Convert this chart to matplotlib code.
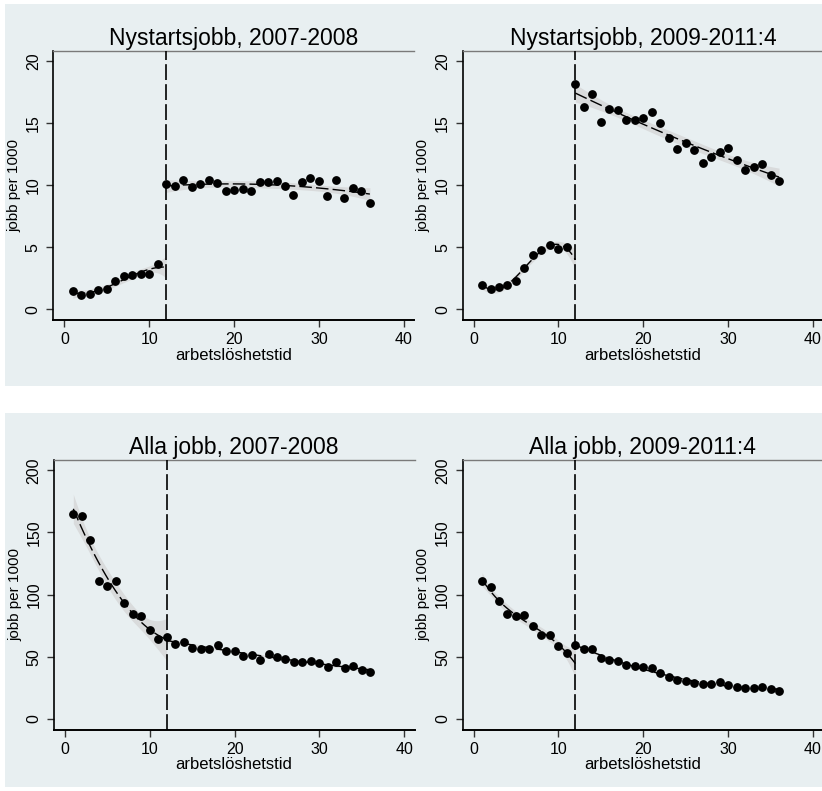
import numpy as np
import matplotlib
matplotlib.use("Agg")
import matplotlib.pyplot as plt
from matplotlib.patches import Rectangle

plt.rcParams['font.family'] = ['Liberation Sans', 'DejaVu Sans']

# ---------------- data ----------------
months = list(range(1, 37))
cutoff = 12

titles = ["Nystartsjobb, 2007-2008", "Nystartsjobb, 2009-2011:4",
          "Alla jobb, 2007-2008", "Alla jobb, 2009-2011:4"]

ny_0708 = [1.51, 1.13, 1.24, 1.56, 1.67, 2.26, 2.69, 2.75, 2.85, 2.85, 3.66,
           10.09, 9.96, 10.44, 9.85, 10.12, 10.44, 10.23, 9.58, 9.64, 9.74, 9.58,
           10.28, 10.28, 10.34, 9.96, 9.23, 10.28, 10.58, 10.39, 9.18, 10.44,
           8.96, 9.80, 9.53, 8.61]
ny_0911 = [1.97, 1.67, 1.78, 1.99, 2.26, 3.34, 4.41, 4.79, 5.17, 4.90, 5.06,
           18.17, 16.29, 17.39, 15.13, 16.15, 16.07, 15.29, 15.24, 15.45, 15.94,
           15.05, 13.78, 12.97, 13.41, 12.87, 11.84, 12.27, 12.73, 13.03, 12.03,
           11.25, 11.47, 11.74, 10.85, 10.34]
alla_0708 = [164.9, 163.3, 143.7, 111.3, 107.0, 111.0, 93.6, 84.7, 83.1, 71.8,
             64.1, 65.9, 60.6, 61.7, 57.1, 56.3, 56.6, 59.8, 55.0, 54.7, 50.9,
             51.7, 47.7, 52.3, 49.6, 48.0, 46.1, 45.8, 46.9, 45.3, 41.8, 46.1,
             41.0, 42.9, 39.1, 37.5]
alla_0911 = [110.7, 106.4, 94.9, 84.5, 82.8, 83.6, 74.5, 67.3, 67.6, 58.4,
             53.4, 59.5, 56.3, 56.3, 48.8, 47.7, 46.6, 43.4, 42.4, 41.6, 40.8,
             37.3, 33.8, 31.1, 30.6, 29.0, 28.4, 27.9, 29.8, 27.3, 25.7, 24.7,
             25.2, 25.7, 23.9, 22.8]
series = [ny_0708, ny_0911, alla_0708, alla_0911]
left_fit_degree = [3, 3, 2, 3]
right_fit_degree = [2, 2, 2, 2]

x_ticks = [0, 10, 20, 30, 40]
y_ticks_top = [0, 5, 10, 15, 20]
y_ticks_bottom = [0, 50, 100, 150, 200]

xlabel = "arbetslöshetstid"
ylabel = "jobb per 1000"

# ---------------- style ----------------
W, H = 822, 791
bg = '#E8EFF1'
band_col = '#D9DBDC'

fig = plt.figure(figsize=(W / 100, H / 100), dpi=100)
fig.patch.set_facecolor('white')

for top, bot in [(4, 386), (413, 787)]:
    fig.patches.append(Rectangle((5 / W, 1 - bot / H), (W - 5) / W, (bot - top) / H,
                                 transform=fig.transFigure, facecolor=bg,
                                 edgecolor='none', zorder=-10))

def axpos(left, top, right, bottom):
    return [left / W, 1 - bottom / H, (right - left) / W, (bottom - top) / H]

positions = [axpos(53.3, 51, 414, 320), axpos(462.5, 51, 823.2, 320),
             axpos(53.8, 460, 414.5, 729.5), axpos(462.5, 460, 823.2, 729.5)]


def fit_ci(xs, ys, deg, xgrid):
    xs = np.asarray(xs, float)
    ys = np.asarray(ys, float)
    X = np.vander(xs, deg + 1)
    beta, *_ = np.linalg.lstsq(X, ys, rcond=None)
    resid = ys - X @ beta
    dof = len(xs) - (deg + 1)
    s2 = resid @ resid / dof
    XtXi = np.linalg.inv(X.T @ X)
    Xg = np.vander(xgrid, deg + 1)
    yhat = Xg @ beta
    se = np.sqrt(np.einsum('ij,jk,ik->i', Xg, XtXi, Xg) * s2)
    return yhat, yhat - 1.96 * se, yhat + 1.96 * se


for i, (vals, title) in enumerate(zip(series, titles)):
    ax = fig.add_axes(positions[i])
    ax.set_facecolor(bg)
    xs = np.array(months)
    ys = np.array(vals)
    left = xs < cutoff
    right = xs >= cutoff

    g1 = np.linspace(1, cutoff, 60)
    g2 = np.linspace(cutoff, 36, 100)
    for mask, grid, deg in [(left, g1, left_fit_degree[i]), (right, g2, right_fit_degree[i])]:
        yhat, lo, hi = fit_ci(xs[mask], ys[mask], deg, grid)
        ax.fill_between(grid, lo, hi, color=band_col, lw=0, zorder=1)
        ax.plot(grid, yhat, color='black', lw=1.0, dashes=(9, 3), zorder=2)

    ax.axvline(cutoff, color='black', lw=1.2, dashes=(9.5, 2.5), zorder=3)
    ax.plot(xs, ys, 'o', color='black', ms=5.3, mec='black', zorder=4)

    ax.set_xlim(-1.3, 41.2)
    ax.set_xticks(x_ticks)
    if i < 2:
        ax.set_ylim(-0.85, 20.83)
        ax.set_yticks(y_ticks_top)
    else:
        ax.set_ylim(-8.5, 208.3)
        ax.set_yticks(y_ticks_bottom)

    ax.spines['right'].set_visible(False)
    ax.spines['top'].set_color('#7a7a7a')
    ax.spines['top'].set_linewidth(1.0)
    ax.spines['left'].set_linewidth(1.2)
    ax.spines['bottom'].set_linewidth(1.4)

    ax.tick_params(axis='both', direction='out', length=5, width=1.0,
                   labelsize=11.5, pad=4, color='#333333')
    for lab in ax.get_yticklabels():
        lab.set_rotation(90)
        lab.set_va('center')
        lab.set_ha('right')

    ax.set_title(title, fontsize=16.5, pad=4)
    ax.set_xlabel(xlabel, fontsize=12, labelpad=0)
    ax.set_ylabel(ylabel, fontsize=11, labelpad=3)

fig.savefig('out.png', dpi=100, facecolor='white')
